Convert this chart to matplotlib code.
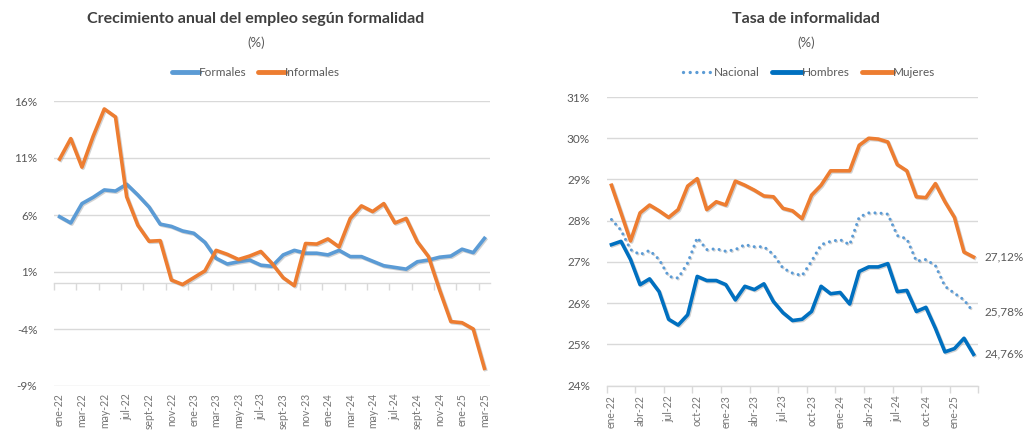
import numpy as np
import matplotlib
matplotlib.use("Agg")
import matplotlib.pyplot as plt
import matplotlib.patheffects as pe
from matplotlib.lines import Line2D

plt.rcParams['font.family'] = ['Lato', 'DejaVu Sans']

# ---------------- data ----------------
months_left_labels = ["ene-22", "mar-22", "may-22", "jul-22", "sept-22", "nov-22",
                      "ene-23", "mar-23", "may-23", "jul-23", "sept-23", "nov-23",
                      "ene-24", "mar-24", "may-24", "jul-24", "sept-24", "nov-24",
                      "ene-25", "mar-25"]
months_right_labels = ["ene-22", "abr-22", "jul-22", "oct-22", "ene-23", "abr-23",
                       "jul-23", "oct-23", "ene-24", "abr-24", "jul-24", "oct-24", "ene-25"]

formales = [5.85, 5.3, 7.0, 7.55, 8.2, 8.1, 8.7, 7.75, 6.7, 5.2,
            5.0, 4.6, 4.4, 3.6, 2.2, 1.7, 1.9, 2.05, 1.6, 1.5,
            2.5, 2.9, 2.65, 2.65, 2.5, 2.9, 2.35, 2.35, 1.95, 1.55,
            1.4, 1.25, 1.9, 2.05, 2.3, 2.4, 3.0, 2.7, 3.95]
informales = [10.9, 12.7, 10.2, 12.9, 15.3, 14.6, 7.6, 5.1, 3.7, 3.75,
              0.3, -0.1, 0.5, 1.1, 2.9, 2.55, 2.1, 2.4, 2.8, 1.75,
              0.5, -0.2, 3.5, 3.45, 3.9, 3.2, 5.7, 6.8, 6.3, 7.0,
              5.3, 5.7, 3.65, 2.35, -0.6, -3.35, -3.45, -4.0, -7.45]

nacional = [28.03, 27.77, 27.30, 27.18, 27.28, 27.06, 26.65, 26.61, 26.98, 27.59,
            27.30, 27.32, 27.26, 27.30, 27.42, 27.37, 27.37, 27.18, 26.85, 26.73,
            26.67, 27.02, 27.42, 27.50, 27.54, 27.42, 28.09, 28.19, 28.19, 28.16,
            27.64, 27.56, 27.02, 27.06, 26.91, 26.41, 26.24, 26.08, 25.78]
hombres = [27.42, 27.50, 27.06, 26.45, 26.59, 26.28, 25.61, 25.47, 25.72, 26.65,
           26.55, 26.55, 26.45, 26.08, 26.41, 26.33, 26.47, 26.04, 25.77, 25.58,
           25.61, 25.80, 26.41, 26.23, 26.26, 25.98, 26.77, 26.88, 26.88, 26.96,
           26.28, 26.31, 25.80, 25.90, 25.39, 24.82, 24.90, 25.15, 24.76]
mujeres = [28.86, 28.19, 27.51, 28.19, 28.38, 28.24, 28.08, 28.27, 28.84, 29.02,
           28.27, 28.46, 28.38, 28.96, 28.86, 28.74, 28.60, 28.58, 28.30, 28.24,
           28.05, 28.62, 28.86, 29.21, 29.21, 29.21, 29.83, 30.00, 29.98, 29.91,
           29.36, 29.21, 28.58, 28.56, 28.90, 28.46, 28.08, 27.24, 27.12]

left_yticks = [-9, -4, 1, 6, 11, 16]
right_yticks = [24, 25, 26, 27, 28, 29, 30, 31]

# ---------------- style ----------------
TXT = '#595959'
XTXT = '#767676'
GRID = '#d9d9d9'
C_FORM = '#5b9bd5'
C_INF = '#ed7d31'
C_HOM = '#0070c0'
C_NAC = '#5b9bd5'
C_MUJ = '#ed7d31'
LW = 2.6
DOTS = (0, (0.01, 2.0))
shadow = [pe.SimpleLineShadow(offset=(0.8, -0.8), shadow_color='#808080', alpha=0.35), pe.Normal()]

W, H = 1025, 438
fig = plt.figure(figsize=(W / 100, H / 100), dpi=100)
fig.patch.set_facecolor('white')

def fx(px):
    return px / W

def fy(py):
    return 1 - py / H

# ---------------- left chart ----------------
n = len(formales)
x = np.arange(n)
axL = fig.add_axes([fx(54), fy(386), fx(490) - fx(54), fy(101) - fy(386)])
axL.set_xlim(-0.5, n - 0.5)
axL.set_ylim(-9, 16)
axL.set_yticks(left_yticks)
axL.set_yticklabels([f"{v}%" for v in left_yticks])
axL.yaxis.grid(True, color=GRID, linewidth=1.0)
axL.set_axisbelow(True)
for s in ['top', 'right', 'left']:
    axL.spines[s].set_visible(False)
axL.spines['bottom'].set_position(('data', 0))
axL.spines['bottom'].set_color(GRID)
axL.spines['bottom'].set_linewidth(1.0)
axL.set_xticks(np.arange(-0.5, n - 1, 2))
axL.set_xticklabels([])
axL.tick_params(axis='x', length=5, color=GRID, width=1.0, direction='out')
axL.tick_params(axis='y', length=0, pad=12, labelsize=8.5, labelcolor=TXT)

secL = axL.secondary_xaxis('bottom')
secL.set_xticks(np.arange(0, n, 2), labels=months_left_labels)
secL.tick_params(length=0, pad=5, labelsize=7.6, labelcolor=XTXT, labelrotation=90)
secL.spines['bottom'].set_visible(False)

axL.plot(x, formales, color=C_FORM, lw=LW, solid_joinstyle='round', path_effects=shadow, zorder=3, clip_on=False)
axL.plot(x, informales, color=C_INF, lw=LW, solid_joinstyle='round', path_effects=shadow, zorder=4, clip_on=False)

fig.text(fx(256), fy(19), "Crecimiento anual del empleo según formalidad", ha='center', va='center',
         fontsize=11.5, fontweight='bold', color='#404040')
fig.text(fx(256), fy(43), "(%)", ha='center', va='center', fontsize=9.5, color=TXT)

hl = [Line2D([], [], color=C_FORM, lw=3.5, solid_capstyle='round'),
      Line2D([], [], color=C_INF, lw=3.5, solid_capstyle='round')]
fig.legend(hl, ["Formales", "Informales"], loc='center', bbox_to_anchor=(fx(256), fy(73)), ncol=2,
           frameon=False, fontsize=8.5, labelcolor=TXT, handlelength=2.3, handletextpad=0.0,
           columnspacing=0.9)

# ---------------- right chart ----------------
axR = fig.add_axes([fx(606.7), fy(385.7), fx(978.3) - fx(606.7), fy(97) - fy(385.7)])
axR.set_xlim(-0.5, n - 0.5)
axR.set_ylim(24, 31)
axR.set_yticks(right_yticks)
axR.set_yticklabels([f"{v}%" for v in right_yticks])
axR.yaxis.grid(True, color=GRID, linewidth=1.0)
axR.set_axisbelow(True)
for s in ['top', 'right', 'left']:
    axR.spines[s].set_visible(False)
axR.spines['bottom'].set_color(GRID)
axR.spines['bottom'].set_linewidth(1.0)
axR.set_xticks(np.arange(-0.5, n, 3))
axR.set_xticklabels([])
axR.tick_params(axis='x', length=5, color=GRID, width=1.0, direction='out')
axR.tick_params(axis='y', length=0, pad=12, labelsize=8.5, labelcolor=TXT)

secR = axR.secondary_xaxis('bottom')
secR.set_xticks(np.arange(0, n - 1, 3), labels=months_right_labels)
secR.tick_params(length=0, pad=7, labelsize=7.6, labelcolor=XTXT, labelrotation=90)
secR.spines['bottom'].set_visible(False)

axR.plot(x, nacional, color=C_NAC, lw=2.2, linestyle=DOTS, dash_capstyle='round',
         path_effects=shadow, zorder=3, clip_on=False)
axR.plot(x, hombres, color=C_HOM, lw=LW, solid_joinstyle='round', path_effects=shadow, zorder=4, clip_on=False)
axR.plot(x, mujeres, color=C_MUJ, lw=LW, solid_joinstyle='round', path_effects=shadow, zorder=5, clip_on=False)

for series in (mujeres, nacional, hombres):
    v = series[-1]
    axR.annotate(f"{v:.2f}%".replace('.', ','), xy=(n - 1, v), xytext=(8, 0), textcoords='offset points',
                 ha='left', va='center', fontsize=8.5, color=TXT, annotation_clip=False)

fig.text(fx(806), fy(19), "Tasa de informalidad", ha='center', va='center',
         fontsize=11.5, fontweight='bold', color='#404040')
fig.text(fx(806), fy(43), "(%)", ha='center', va='center', fontsize=9.5, color=TXT)

hr = [Line2D([], [], color=C_NAC, lw=2.4, linestyle=DOTS, dash_capstyle='round'),
      Line2D([], [], color=C_HOM, lw=3.5, solid_capstyle='round'),
      Line2D([], [], color=C_MUJ, lw=3.5, solid_capstyle='round')]
fig.legend(hr, ["Nacional", "Hombres", "Mujeres"], loc='center', bbox_to_anchor=(fx(809), fy(73)), ncol=3,
           frameon=False, fontsize=8.5, labelcolor=TXT, handlelength=2.6, handletextpad=0.0,
           columnspacing=1.0)

fig.savefig("out.png", dpi=100, facecolor='white')
